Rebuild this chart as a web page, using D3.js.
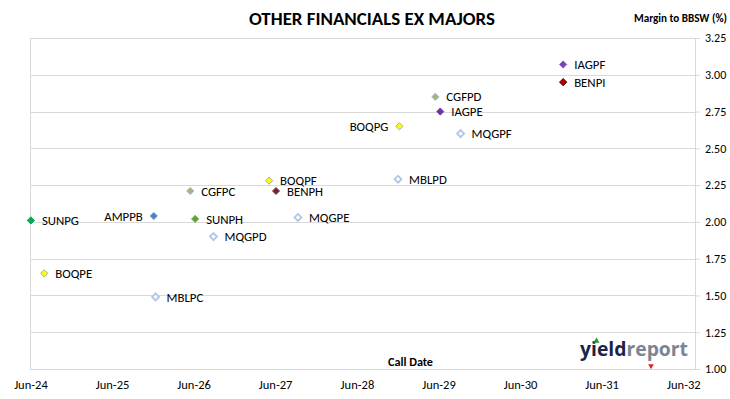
<!DOCTYPE html>
<html>
<head>
<meta charset="utf-8">
<script src="https://cdn.jsdelivr.net/npm/d3@7"></script>
<style>
  html, body { margin: 0; padding: 0; background: #ffffff; }
  svg { display: block; }
  text { font-family: Carlito, Lato, "Liberation Sans", sans-serif; fill: #000; }
</style>
</head>
<body>
<svg id="chart" width="730" height="399"></svg>
<script>
// ---- data ----
const names = ["SUNPG","BOQPE","AMPPB","MBLPC","CGFPC","SUNPH","MQGPD","BOQPF","BENPH","MQGPE",
               "MBLPD","BOQPG","CGFPD","IAGPE","MQGPF","IAGPF","BENPI"];
const callDates = ["2024-06-17","2024-08-16","2025-12-19","2025-12-27","2026-05-31","2026-06-22",
                   "2026-09-12","2027-05-19","2027-06-19","2027-09-25","2028-12-16","2028-12-22",
                   "2029-06-01","2029-06-23","2029-09-22","2030-12-25","2030-12-25"];
const margins = [2.01,1.65,2.04,1.49,2.21,2.02,1.90,2.28,2.21,2.03,2.29,2.65,2.85,2.75,2.60,3.07,2.95];
const yTicks = [1.00,1.25,1.50,1.75,2.00,2.25,2.50,2.75,3.00,3.25];
const xTickDates = ["2024-06-15","2025-06-15","2026-06-15","2027-06-15","2028-06-15",
                    "2029-06-15","2030-06-15","2031-06-15","2032-06-15"];
const leftLabels = ["AMPPB","BOQPG"];

// ---- styles ----
const markerStyle = {
  SUNPG: {fill:"#00b050", stroke:"#00a048"},
  SUNPH: {fill:"#5f9e3c", stroke:"#7ab55c"},
  BOQPE: {fill:"#ffff00", stroke:"#a6a6a6"},
  BOQPF: {fill:"#ffff00", stroke:"#a6a6a6"},
  BOQPG: {fill:"#ffff00", stroke:"#a6a6a6"},
  AMPPB: {fill:"#4f81bd", stroke:"#6f9bd1"},
  CGFPC: {fill:"#a3b873", stroke:"#9ab7d9"},
  CGFPD: {fill:"#a3b873", stroke:"#9ab7d9"},
  BENPH: {fill:"#6e2424", stroke:"#9a5050"},
  BENPI: {fill:"#c00000", stroke:"#300000"},
  IAGPE: {fill:"#7030a0", stroke:"#8048b0"},
  IAGPF: {fill:"#7f3fbf", stroke:"#9060c8"},
  MBLPC: {fill:"#ffffff", stroke:"#b4c7e7", hollow:true},
  MBLPD: {fill:"#ffffff", stroke:"#b4c7e7", hollow:true},
  MQGPD: {fill:"#ffffff", stroke:"#b4c7e7", hollow:true},
  MQGPE: {fill:"#ffffff", stroke:"#b4c7e7", hollow:true},
  MQGPF: {fill:"#ffffff", stroke:"#b4c7e7", hollow:true}
};

(function () {
const parse = d3.timeParse("%Y-%m-%d");
const points = names.map((n,i) => ({name:n, date:parse(callDates[i]), value:margins[i]}));

const svg = d3.select("#chart");
const pLeft = 30, pRight = 695, pTop = 38, pBottom = 369;
const gridColor = "#d9d9d9";
const fontFam = "Carlito, Lato, 'Liberation Sans', sans-serif";

const x = d3.scaleTime()
  .domain([parse("2024-06-13"), parse("2032-08-06")])
  .range([pLeft, pRight]);
const y = d3.scaleLinear().domain([1, 3.25]).range([pBottom, pTop]);

// gridlines
svg.append("g").selectAll("line").data(yTicks).join("line")
  .attr("x1", pLeft).attr("x2", pRight)
  .attr("y1", d => Math.round(y(d)) + 0.5).attr("y2", d => Math.round(y(d)) + 0.5)
  .attr("stroke", gridColor).attr("stroke-width", 1);
// left border
svg.append("line").attr("x1", pLeft + 0.5).attr("x2", pLeft + 0.5).attr("y1", pTop).attr("y2", pBottom)
  .attr("stroke", gridColor);

// right axis
const yAxis = svg.append("g").attr("transform", `translate(${pRight},0)`)
  .call(d3.axisRight(y).tickValues(yTicks).tickFormat(d3.format(".2f")).tickSize(5).tickPadding(5));
yAxis.select(".domain").attr("stroke", gridColor);
yAxis.selectAll(".tick line").attr("stroke", gridColor);
yAxis.selectAll("text").attr("font-size", 12).attr("fill","#000").style("font-family", fontFam);

// bottom axis labels
const xAxis = svg.append("g").attr("transform", `translate(0,${pBottom})`)
  .call(d3.axisBottom(x).tickValues(xTickDates.map(parse)).tickFormat(d3.timeFormat("%b-%y"))
        .tickSize(0).tickPadding(11));
xAxis.select(".domain").remove();
xAxis.selectAll("text").attr("font-size", 12.5).attr("fill","#000").style("font-family", fontFam);

// markers
const sym = d3.symbol().type(d3.symbolSquare);
const g = svg.append("g");
g.selectAll("path").data(points).join("path")
  .attr("d", d => sym.size(markerStyle[d.name].hollow ? 24 : 26)())
  .attr("transform", d => `translate(${x(d.date)},${y(d.value)}) rotate(45)`)
  .attr("fill", d => markerStyle[d.name].fill)
  .attr("stroke", d => markerStyle[d.name].stroke)
  .attr("stroke-width", d => markerStyle[d.name].hollow ? 1.9 : 0.9);

// point labels
g.selectAll("text").data(points).join("text")
  .attr("x", d => x(d.date) + (leftLabels.includes(d.name) ? -11 : 11))
  .attr("y", d => y(d.value))
  .attr("dy", "0.36em")
  .attr("text-anchor", d => leftLabels.includes(d.name) ? "end" : "start")
  .attr("font-size", 12.8)
  .text(d => d.name);

// titles
svg.append("text").attr("x", 249).attr("y", 25)
  .attr("font-size", 19).attr("font-weight", "bold")
  .attr("textLength", 246).attr("lengthAdjust", "spacingAndGlyphs")
  .text("OTHER FINANCIALS EX MAJORS");
svg.append("text").attr("x", 634).attr("y", 22)
  .attr("font-size", 11).attr("font-weight", "bold")
  .attr("textLength", 93).attr("lengthAdjust", "spacingAndGlyphs")
  .text("Margin to BBSW (%)");
svg.append("text").attr("x", 388).attr("y", 366)
  .attr("font-size", 12).attr("font-weight", "bold")
  .attr("textLength", 45).attr("lengthAdjust", "spacingAndGlyphs")
  .text("Call Date");

// logo
const logo = svg.append("text").attr("x", 580).attr("y", 356)
  .attr("font-size", 20).attr("font-weight", "bold")
  .style("font-family", "'Open Sans', 'Liberation Sans', sans-serif")
  .attr("textLength", 108).attr("lengthAdjust", "spacingAndGlyphs");
logo.append("tspan").attr("fill", "#1c2447").text("yield");
logo.append("tspan").attr("fill", "#7b8491").text("report");
svg.append("path").attr("d", d3.symbol().type(d3.symbolTriangle).size(16)())
  .attr("transform", "translate(596.5,341)").attr("fill", "#1e9a3e");
svg.append("path").attr("d", d3.symbol().type(d3.symbolTriangle).size(14)())
  .attr("transform", "translate(651,366) rotate(180)").attr("fill", "#e0202a");
})();
</script>
</body>
</html>
